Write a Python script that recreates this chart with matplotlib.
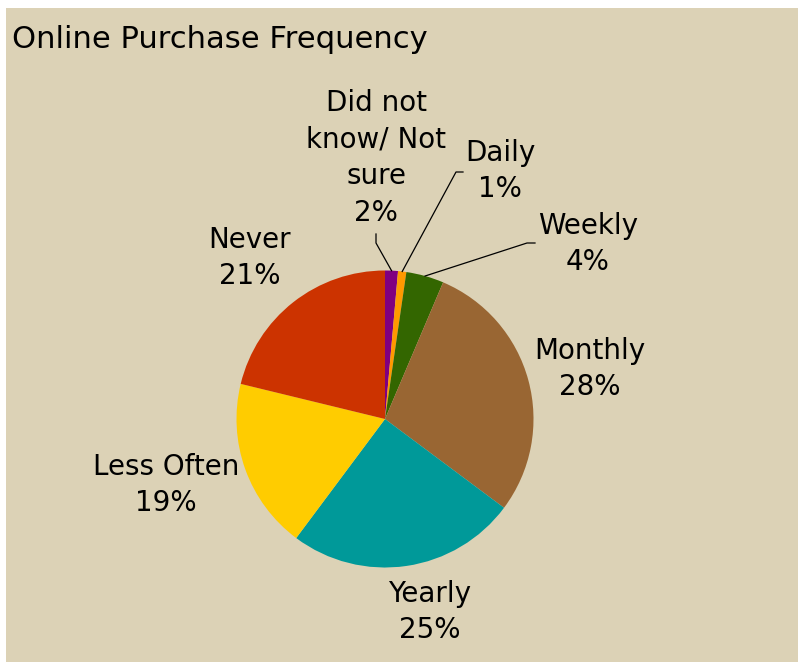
import numpy as np
import matplotlib.pyplot as plt
from matplotlib.patches import Rectangle

# slice shares, with the printed labels
categories = ["Did not\nknow/ Not\nsure", "Daily", "Weekly", "Monthly",
              "Yearly", "Less Often", "Never"]
shares = [1.4, 0.9, 4.1, 28.8, 25.0, 18.6, 21.2]
pct_labels = ["2%", "1%", "4%", "28%", "25%", "19%", "21%"]
colors = ["#800080", "#FF9900", "#336600", "#996633",
          "#009999", "#FFCC00", "#CC3300"]

W, H = 798, 665
fig = plt.figure(figsize=(W / 100, H / 100), dpi=100, facecolor="white")
fig.patches.append(Rectangle((6 / W, 3 / H), 792 / W, 654 / H,
                             transform=fig.transFigure, facecolor="#DCD2B6",
                             edgecolor="none", zorder=-10))

ax = fig.add_axes([0, 0, 1, 1])
ax.set_zorder(5)


def py(y):
    # pixel row (from top) -> data y
    return H - y


cx, cy, r = 385, py(419), 148.5
wedges, _ = ax.pie(shares, colors=colors, startangle=90, counterclock=False,
                   center=(cx, cy), radius=r, frame=True,
                   wedgeprops=dict(linewidth=0))
ax.set_xlim(0, W)
ax.set_ylim(0, H)
ax.set_aspect("equal")
ax.axis("off")

# label block centres (pixels)
label_pos = [(376, 158), (500, 171), (588, 244), (590, 369),
             (430, 612), (166, 485), (250, 258)]
for name, pct, (lx, ly) in zip(categories, pct_labels, label_pos):
    ax.text(lx, py(ly), f"{name}\n{pct}", ha="center", va="center",
            fontsize=20, linespacing=1.38, color="black")

# leader lines for the three thin slices
elbows = {0: [(376, 234), (376, 243)],
          1: [(463, 172), (456, 172)],
          2: [(535, 243), (527, 243)]}
for i, pts in elbows.items():
    w = wedges[i]
    mid = np.deg2rad((w.theta1 + w.theta2) / 2)
    ex, ey = cx + r * np.cos(mid), cy + r * np.sin(mid)
    xs = [p[0] for p in pts] + [ex]
    ys = [py(p[1]) for p in pts] + [ey]
    ax.plot(xs, ys, color="black", linewidth=0.9)

ax.text(12, py(48), "Online Purchase Frequency", ha="left", va="baseline",
        fontsize=22.1, color="black")

fig.savefig("out.png", dpi=100, facecolor=fig.get_facecolor())
